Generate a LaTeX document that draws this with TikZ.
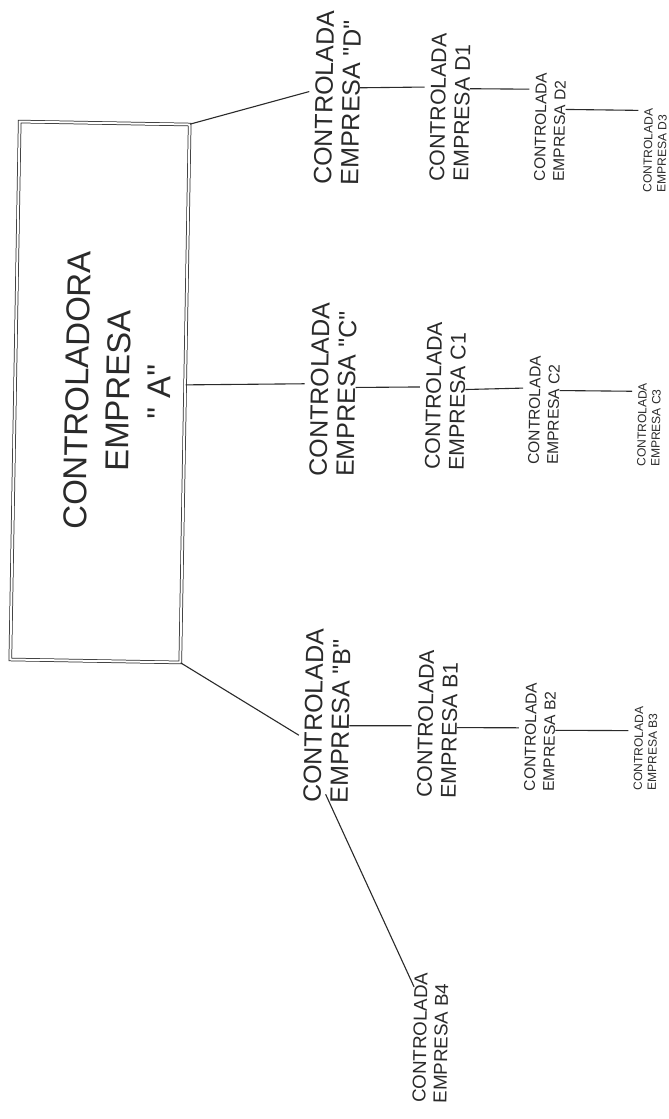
\documentclass[tikz,border=0pt]{standalone}
\usepackage{fontspec}
\setmainfont{Liberation Sans}[Ligatures=TeXOff]
\usetikzlibrary{calc}
\definecolor{ink}{HTML}{2A2A2A}
\tikzset{
  mainbox/.style={draw=ink, double=white, double distance=2pt, line width=0.75pt,
    rotate=89, minimum width=538pt, minimum height=170pt, inner sep=0pt},
  maintext/.style={rotate=89, align=center, inner sep=0pt, text=ink,
    font=\fontsize{33}{41}\selectfont},
  child/.style={rotate=89, align=left, inner sep=0pt, text=ink},
  lvlzero/.style={child, font=\fontsize{25}{27}\selectfont},
  lvlone/.style={child, font=\fontsize{21.3}{24}\selectfont},
  lvltwo/.style={child, font=\fontsize{15.6}{19}\selectfont},
  lvlthree/.style={child, font=\fontsize{12}{14}\selectfont},
  lvlbfour/.style={child, font=\fontsize{18.7}{21}\selectfont},
  link/.style={draw=ink, line width=1.1pt, shorten >=6pt},
}
\begin{document}
\begin{tikzpicture}[x=1pt,y=-1pt]
\useasboundingbox[fill=white] (0,0) rectangle (669,1119);

% main box
\node[mainbox] (A) at (100,392) {};
\node[maintext] (Atext) at (118,391) {CONTROLADORA\\EMPRESA\\" A"};

% branch D
\node[lvlzero]  (D)  at (337.5,98)  {CONTROLADA\\EMPRESA "D"};
\node[lvlone]   (D1) at (450,107.5) {CONTROLADA\\EMPRESA D1};
\node[lvltwo]   (D2) at (550,127)   {CONTROLADA\\EMPRESA D2};
\node[lvlthree] (D3) at (655,150.5) {CONTROLADA\\EMPRESA D3};

% branch C
\node[lvlzero]  (C)  at (333,389.5) {CONTROLADA\\EMPRESA "C"};
\node[lvlone]   (C1) at (445.5,396) {CONTROLADA\\EMPRESA C1};
\node[lvltwo]   (C2) at (544,410.5) {CONTROLADA\\EMPRESA C2};
\node[lvlthree] (C3) at (649,425)   {CONTROLADA\\EMPRESA C3};

% branch B
\node[lvlzero]  (B)  at (327,716)   {CONTROLADA\\EMPRESA "B"};
\node[lvlone]   (B1) at (437.5,724) {CONTROLADA\\EMPRESA B1};
\node[lvltwo]   (B2) at (540,737)   {CONTROLADA\\EMPRESA B2};
\node[lvlthree] (B3) at (645.5,748.5) {CONTROLADA\\EMPRESA B3};
\node[lvlbfour] (B4) at (430.5,1038) {CONTROLADA\\EMPRESA B4};

% connectors from the main box
\draw[link] (A.south east) -- ($(D.north west)!0.544!(D.north east)$);
\draw[link] ($(A.south west)!0.516!(A.south east)$) -- ($(C.north west)!0.531!(C.north east)$);
\draw[link] (A.south west) -- ($(B.north west)!0.369!(B.north east)$);

% D chain
\draw[link] ($(D.south west)!0.561!(D.south east)$) -- ($(D1.north west)!0.636!(D1.north east)$);
\draw[link] ($(D1.south west)!0.629!(D1.south east)$) -- ($(D2.north west)!0.845!(D2.north east)$);
\draw[link] ($(D2.south west)!0.664!(D2.south east)$) -- ($(D3.north west)!0.976!(D3.north east)$);

% C chain
\draw[link] ($(C.south west)!0.514!(C.south east)$) -- ($(C1.north west)!0.559!(C1.north east)$);
\draw[link] ($(C1.south west)!0.546!(C1.south east)$) -- ($(C2.north west)!0.705!(C2.north east)$);
\draw[link] ($(C2.south west)!0.686!(C2.south east)$) -- ($(C3.north west)!0.9!(C3.north east)$);

% B chain
\draw[link] ($(B.south west)!0.446!(B.south east)$) -- ($(B1.north west)!0.486!(B1.north east)$);
\draw[link] ($(B1.south west)!0.478!(B1.south east)$) -- ($(B2.north west)!0.582!(B2.north east)$);
\draw[link] ($(B2.south west)!0.564!(B2.south east)$) -- ($(B3.north west)!0.711!(B3.north east)$);
\draw[link, shorten >=0pt] ($(B.west)!0.05!(B.east)$) -- ($(B4.north west)!0.89!(B4.north east)$);
\end{tikzpicture}
\end{document}
